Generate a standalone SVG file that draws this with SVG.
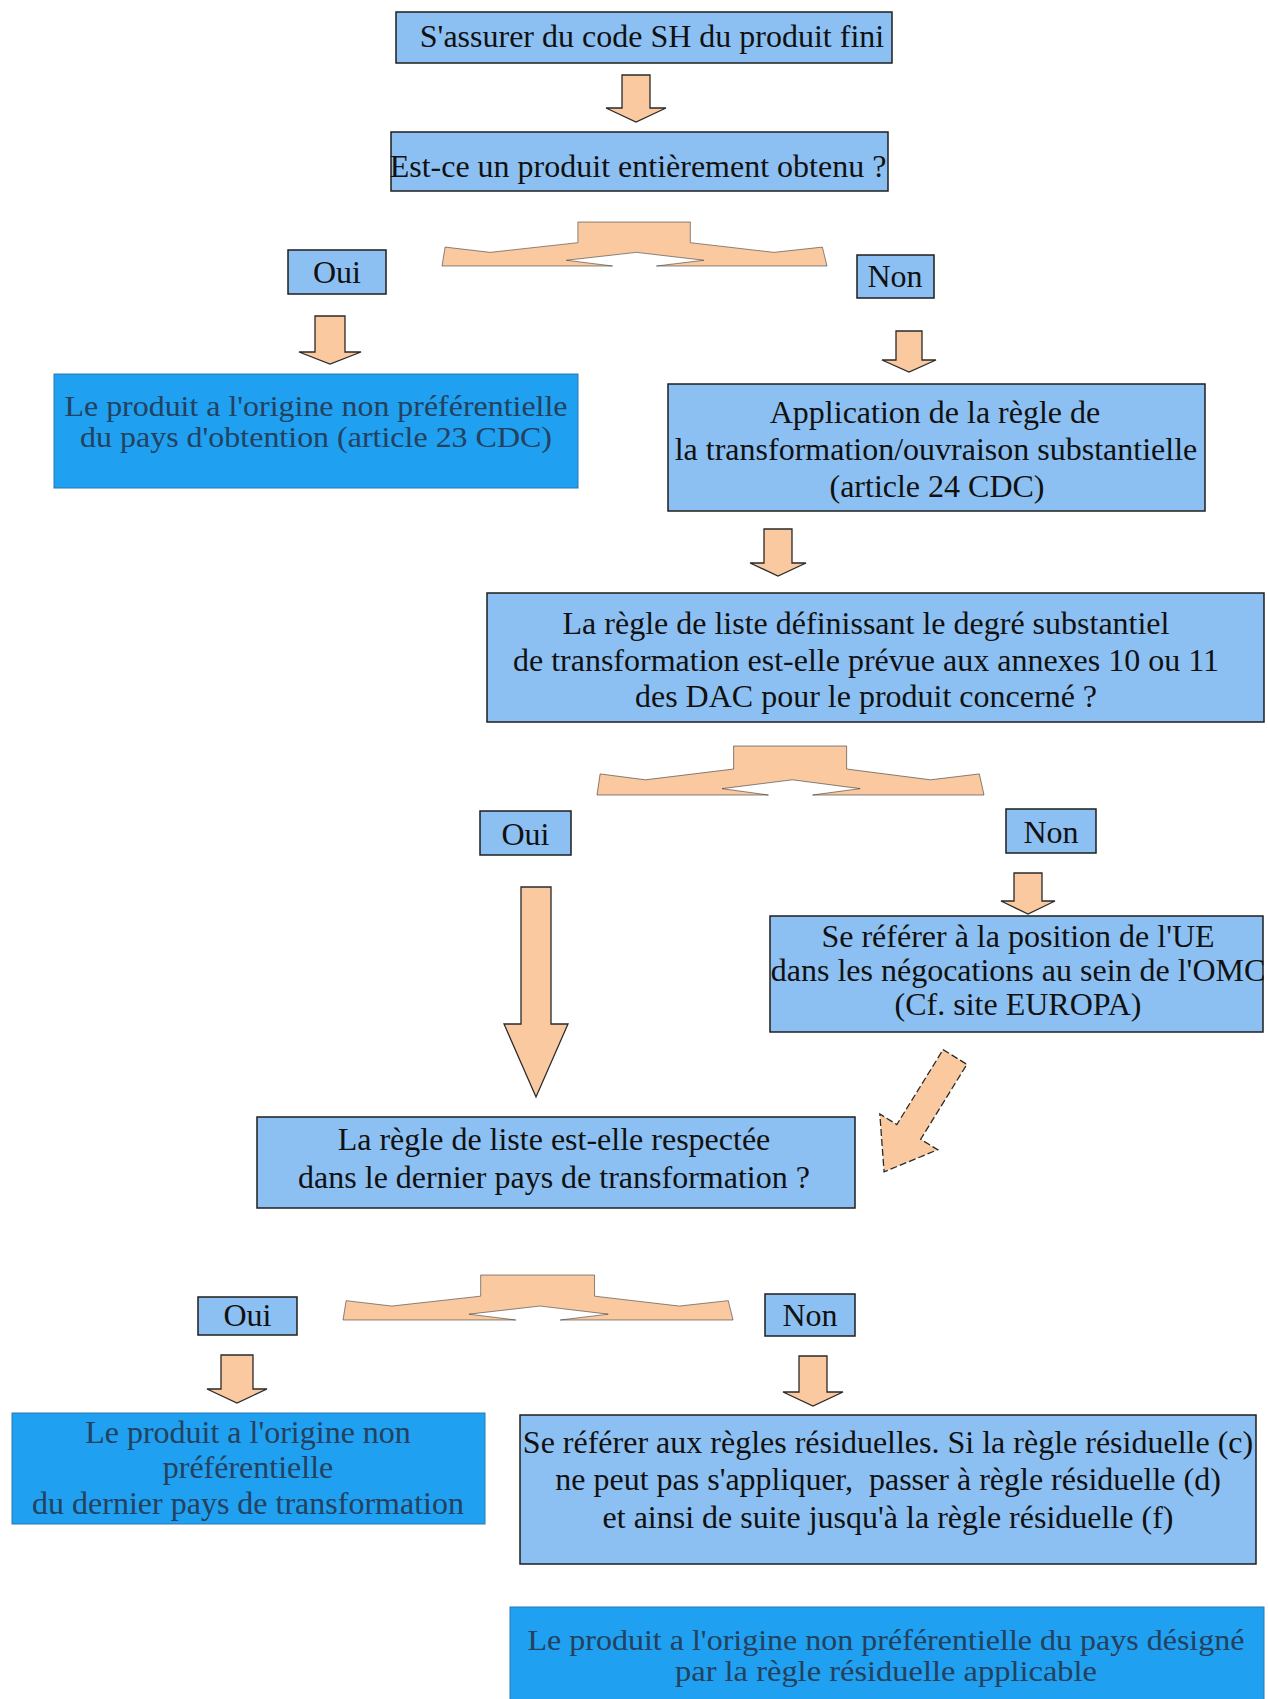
<svg xmlns="http://www.w3.org/2000/svg" width="1268" height="1699" viewBox="0 0 1268 1699">
<defs>
<style>
.box{fill:#8DC0F2;stroke:#1e1e1e;stroke-width:1.5}
.res{fill:#1FA0F0;stroke:#2a78b0;stroke-width:1}
.arr{fill:#FAC9A0;stroke:#2a2a2a;stroke-width:1.3;stroke-linejoin:miter}
.t{font-family:"Liberation Serif","Times New Roman",serif;font-size:32px;fill:#111;text-anchor:middle}
.tr{font-family:"Liberation Serif","Times New Roman",serif;font-size:32px;fill:#24415e;text-anchor:middle}
.tr2{font-family:"Liberation Serif","Times New Roman",serif;font-size:30px;fill:#24415e;text-anchor:middle}
</style>
<path id="split" d="M8,57 L125,69 L353,47 L353,0 L645,0 L645,47 L862,69 L988,57 L1000,100 L557,100 L680,87 L505,69 L323,87 L443,100 L0,100 Z"/>
</defs>
<rect width="1268" height="1699" fill="#ffffff"/>

<g id="connectors">
<polygon class="arr" points="622,75 650,75 650,108 666,108 636,122 606,108 622,108"/>
<use href="#split" class="arr" vector-effect="non-scaling-stroke" transform="translate(442,222) scale(0.385,0.44)"/>
<polygon class="arr" points="315,316 345,316 345,352 361,352 330,364 299,352 315,352"/>
<polygon class="arr" points="896,331 922,331 922,360 936,360 909,372 882,360 896,360"/>
<polygon class="arr" points="764,529 792,529 792,563 806,563 778,576 750,563 764,563"/>
<use href="#split" class="arr" vector-effect="non-scaling-stroke" transform="translate(597,746) scale(0.387,0.49)"/>
<polygon class="arr" points="521,887 551,887 551,1024 568,1024 536,1097 504,1024 521,1024"/>
<polygon class="arr" points="1014,873 1042,873 1042,901 1055,901 1028,914 1001,901 1014,901"/>
<polygon class="arr" stroke-dasharray="7,3" transform="translate(955,1057) rotate(31.7)" points="-14,0 14,0 14,88 34,88 0,135 -34,88 -14,88"/>
<use href="#split" class="arr" vector-effect="non-scaling-stroke" transform="translate(343,1275) scale(0.39,0.45)"/>
<polygon class="arr" points="221,1355 253,1355 253,1389 267,1389 237,1403 207,1389 221,1389"/>
<polygon class="arr" points="799,1356 827,1356 827,1392 843,1392 813,1406 783,1392 799,1392"/>
</g>

<g id="n_code">
<rect class="box" x="396" y="12" width="496" height="51"/>
<text class="t" x="652" y="47">S'assurer du code SH du produit fini</text>
</g>
<g id="n_obtenu">
<rect class="box" x="391" y="132" width="497" height="59"/>
<text class="t" x="638" y="177">Est-ce un produit entièrement obtenu ?</text>
</g>
<g id="n_oui1">
<rect class="box" x="288" y="250" width="98" height="44"/>
<text class="t" x="337" y="283">Oui</text>
</g>
<g id="n_non1">
<rect class="box" x="857" y="255" width="77" height="43"/>
<text class="t" x="895" y="287">Non</text>
</g>
<g id="n_res1">
<rect class="res" x="54" y="374" width="524" height="114"/>
<text class="tr2" x="316" y="416" textLength="503" lengthAdjust="spacingAndGlyphs">Le produit a l'origine non préférentielle</text>
<text class="tr2" x="316" y="447" textLength="472" lengthAdjust="spacingAndGlyphs">du pays d'obtention (article 23 CDC)</text>
</g>
<g id="n_application">
<rect class="box" x="668" y="384" width="537" height="127"/>
<text class="t" x="935" y="423">Application de la règle de</text>
<text class="t" x="936" y="460">la transformation/ouvraison substantielle</text>
<text class="t" x="937" y="497">(article 24 CDC)</text>
</g>
<g id="n_regle">
<rect class="box" x="487" y="593" width="777" height="129"/>
<text class="t" x="866" y="634">La règle de liste définissant le degré substantiel</text>
<text class="t" x="866" y="671">de transformation est-elle prévue aux annexes 10 ou 11</text>
<text class="t" x="866" y="707">des DAC pour le produit concerné ?</text>
</g>
<g id="n_oui2">
<rect class="box" x="480" y="811" width="91" height="44"/>
<text class="t" x="525.5" y="845">Oui</text>
</g>
<g id="n_non2">
<rect class="box" x="1006" y="809" width="90" height="44"/>
<text class="t" x="1051" y="843">Non</text>
</g>
<g id="n_omc">
<rect class="box" x="770" y="916" width="493" height="116"/>
<text class="t" x="1018" y="947">Se référer à la position de l'UE</text>
<text class="t" x="1018" y="981">dans les négocations au sein de l'OMC</text>
<text class="t" x="1018" y="1015">(Cf. site EUROPA)</text>
</g>
<g id="n_respect">
<rect class="box" x="257" y="1117" width="598" height="91"/>
<text class="t" x="554" y="1150">La règle de liste est-elle respectée</text>
<text class="t" x="554" y="1188">dans le dernier pays de transformation ?</text>
</g>
<g id="n_oui3">
<rect class="box" x="198" y="1297" width="99" height="38"/>
<text class="t" x="247.5" y="1326">Oui</text>
</g>
<g id="n_non3">
<rect class="box" x="765" y="1294" width="90" height="42"/>
<text class="t" x="810" y="1326">Non</text>
</g>
<g id="n_res2">
<rect class="res" x="12" y="1413" width="473" height="111"/>
<text class="tr" x="248" y="1443">Le produit a l'origine non</text>
<text class="tr" x="248" y="1478">préférentielle</text>
<text class="tr" x="248" y="1514">du dernier pays de transformation</text>
</g>
<g id="n_residuelles">
<rect class="box" x="520" y="1415" width="736" height="149"/>
<text class="t" x="888" y="1453">Se référer aux règles résiduelles. Si la règle résiduelle (c)</text>
<text class="t" x="888" y="1490" xml:space="preserve">ne peut pas s'appliquer,  passer à règle résiduelle (d)</text>
<text class="t" x="888" y="1528">et ainsi de suite jusqu'à la règle résiduelle (f)</text>
</g>
<g id="n_res3">
<rect class="res" x="510" y="1607" width="754" height="100"/>
<text class="tr2" x="886" y="1650" textLength="717" lengthAdjust="spacingAndGlyphs">Le produit a l'origine non préférentielle du pays désigné</text>
<text class="tr2" x="886" y="1681" textLength="422" lengthAdjust="spacingAndGlyphs">par la règle résiduelle applicable</text>
</g>
</svg>
